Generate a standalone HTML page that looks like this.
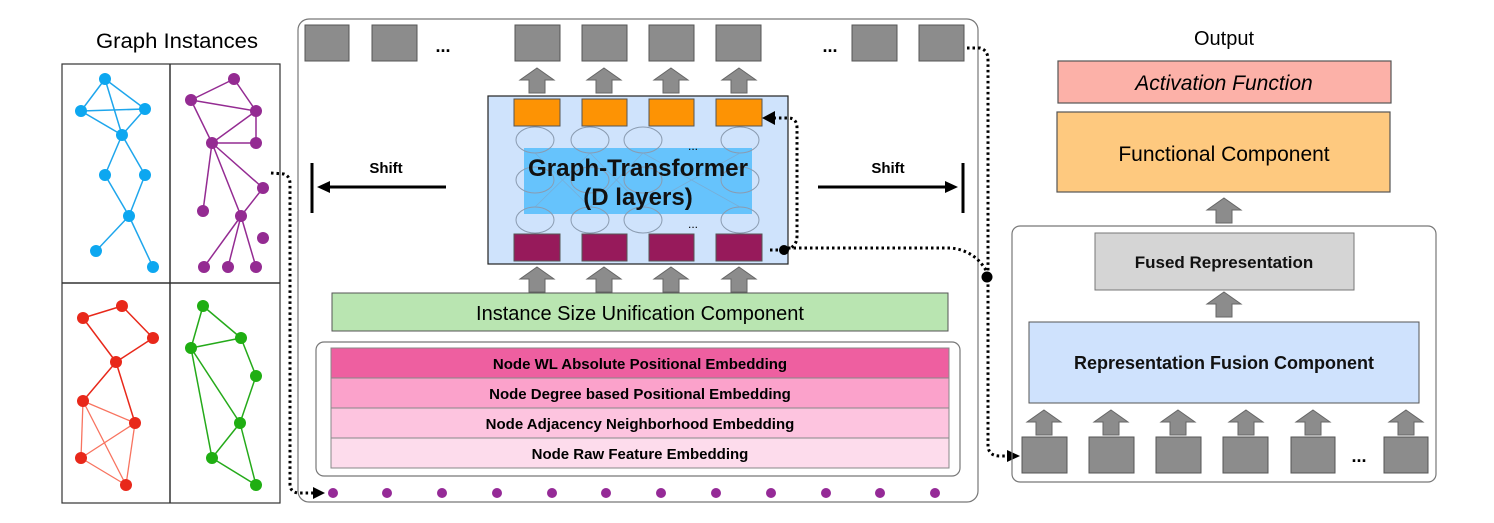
<!DOCTYPE html>
<html><head><meta charset="utf-8"><style>
html,body{margin:0;padding:0;background:#fff;}
svg{display:block;font-family:"Liberation Sans",sans-serif;}
</style></head><body>
<svg width="1494" height="523" viewBox="0 0 1494 523" xmlns="http://www.w3.org/2000/svg">
<defs>
<g id="up"><polygon points="0,0 17,12 8,12 8,25 -8,25 -8,12 -17,12" fill="#8c8c8c" stroke="#666" stroke-width="1"/></g>
</defs>

<!-- Graph instances -->
<text x="177" y="48" font-size="21" text-anchor="middle" textLength="162" lengthAdjust="spacingAndGlyphs">Graph Instances</text>
<rect x="62" y="64" width="218" height="439" fill="#fff" stroke="#333" stroke-width="1.2"/>
<line x1="170" y1="64" x2="170" y2="503" stroke="#333" stroke-width="1.5"/>
<line x1="62" y1="283" x2="280" y2="283" stroke="#333" stroke-width="1.5"/>

<g stroke="#1ea6ec" stroke-width="1.5">
<line x1="105" y1="79" x2="81" y2="111"/><line x1="105" y1="79" x2="145" y2="109"/><line x1="105" y1="79" x2="122" y2="135"/>
<line x1="81" y1="111" x2="145" y2="109"/><line x1="81" y1="111" x2="122" y2="135"/><line x1="145" y1="109" x2="122" y2="135"/>
<line x1="122" y1="135" x2="105" y2="175"/><line x1="122" y1="135" x2="145" y2="175"/><line x1="105" y1="175" x2="129" y2="216"/>
<line x1="145" y1="175" x2="129" y2="216"/><line x1="129" y1="216" x2="96" y2="251"/><line x1="129" y1="216" x2="153" y2="267"/>
</g>
<g fill="#0da7f0">
<circle cx="105" cy="79" r="6"/><circle cx="81" cy="111" r="6"/><circle cx="145" cy="109" r="6"/><circle cx="122" cy="135" r="6"/>
<circle cx="105" cy="175" r="6"/><circle cx="145" cy="175" r="6"/><circle cx="129" cy="216" r="6"/><circle cx="96" cy="251" r="6"/><circle cx="153" cy="267" r="6"/>
</g>

<g stroke="#942b92" stroke-width="1.5">
<line x1="234" y1="79" x2="191" y2="100"/><line x1="234" y1="79" x2="256" y2="111"/><line x1="191" y1="100" x2="256" y2="111"/>
<line x1="191" y1="100" x2="212" y2="143"/><line x1="256" y1="111" x2="212" y2="143"/><line x1="256" y1="111" x2="256" y2="143"/>
<line x1="212" y1="143" x2="256" y2="143"/><line x1="212" y1="143" x2="263" y2="188"/><line x1="212" y1="143" x2="203" y2="211"/>
<line x1="212" y1="143" x2="241" y2="216"/><line x1="263" y1="188" x2="241" y2="216"/><line x1="241" y1="216" x2="204" y2="267"/>
<line x1="241" y1="216" x2="228" y2="267"/><line x1="241" y1="216" x2="256" y2="267"/>
</g>
<g fill="#942b92">
<circle cx="234" cy="79" r="6"/><circle cx="191" cy="100" r="6"/><circle cx="256" cy="111" r="6"/><circle cx="212" cy="143" r="6"/>
<circle cx="256" cy="143" r="6"/><circle cx="263" cy="188" r="6"/><circle cx="203" cy="211" r="6"/><circle cx="241" cy="216" r="6"/>
<circle cx="263" cy="238" r="6"/><circle cx="204" cy="267" r="6"/><circle cx="228" cy="267" r="6"/><circle cx="256" cy="267" r="6"/>
</g>

<g stroke="#e8281a" stroke-width="1.5">
<line x1="122" y1="306" x2="83" y2="318"/><line x1="122" y1="306" x2="153" y2="338"/><line x1="83" y1="318" x2="116" y2="362"/>
<line x1="153" y1="338" x2="116" y2="362"/><line x1="116" y1="362" x2="83" y2="401"/><line x1="116" y1="362" x2="135" y2="423"/>
</g>
<g stroke="#f8735f" stroke-width="1.3">
<line x1="83" y1="401" x2="135" y2="423"/><line x1="83" y1="401" x2="81" y2="458"/><line x1="83" y1="401" x2="126" y2="485"/>
<line x1="135" y1="423" x2="81" y2="458"/><line x1="135" y1="423" x2="126" y2="485"/><line x1="81" y1="458" x2="126" y2="485"/>
</g>
<g fill="#e8281a">
<circle cx="122" cy="306" r="6"/><circle cx="83" cy="318" r="6"/><circle cx="153" cy="338" r="6"/><circle cx="116" cy="362" r="6"/>
<circle cx="83" cy="401" r="6"/><circle cx="135" cy="423" r="6"/><circle cx="81" cy="458" r="6"/><circle cx="126" cy="485" r="6"/>
</g>

<g stroke="#25aa1a" stroke-width="1.5">
<line x1="203" y1="306" x2="241" y2="338"/><line x1="203" y1="306" x2="191" y2="348"/><line x1="191" y1="348" x2="241" y2="338"/>
<line x1="241" y1="338" x2="256" y2="376"/><line x1="191" y1="348" x2="240" y2="423"/><line x1="191" y1="348" x2="212" y2="458"/>
<line x1="256" y1="376" x2="240" y2="423"/><line x1="240" y1="423" x2="212" y2="458"/><line x1="240" y1="423" x2="256" y2="485"/>
<line x1="212" y1="458" x2="256" y2="485"/>
</g>
<g fill="#1fae12">
<circle cx="203" cy="306" r="6"/><circle cx="241" cy="338" r="6"/><circle cx="191" cy="348" r="6"/><circle cx="256" cy="376" r="6"/>
<circle cx="240" cy="423" r="6"/><circle cx="212" cy="458" r="6"/><circle cx="256" cy="485" r="6"/>
</g>

<!-- Main center box -->
<rect x="298" y="19" width="680" height="483" rx="11" fill="none" stroke="#777" stroke-width="1.2"/>

<g fill="#8c8c8c" stroke="#555" stroke-width="1">
<rect x="305" y="25" width="44" height="36"/><rect x="372" y="25" width="45" height="36"/>
<rect x="515" y="25" width="45" height="36"/><rect x="582" y="25" width="45" height="36"/>
<rect x="649" y="25" width="45" height="36"/><rect x="716" y="25" width="45" height="36"/>
<rect x="852" y="25" width="45" height="36"/><rect x="919" y="25" width="45" height="36"/>
</g>
<text x="443" y="52" font-size="18" font-weight="bold" text-anchor="middle">...</text>
<text x="830" y="52" font-size="18" font-weight="bold" text-anchor="middle">...</text>

<use href="#up" x="537" y="68"/><use href="#up" x="604" y="68"/><use href="#up" x="671" y="68"/><use href="#up" x="739" y="68"/>

<!-- Transformer -->
<rect x="488" y="96" width="300" height="168" fill="#cfe3fc" stroke="#222" stroke-width="1.2"/>
<g fill="#fd9304" stroke="#555"><rect x="514" y="99" width="46" height="27"/><rect x="582" y="99" width="45" height="27"/><rect x="649" y="99" width="45" height="27"/><rect x="716" y="99" width="46" height="27"/></g>
<rect x="524" y="148" width="228" height="66" fill="#66c3fc"/>
<g fill="none" stroke="#8a9bb0" stroke-width="1">
<ellipse cx="535" cy="140" rx="19" ry="13"/><ellipse cx="590" cy="140" rx="19" ry="13"/><ellipse cx="643" cy="140" rx="19" ry="13"/><ellipse cx="740" cy="140" rx="19" ry="13"/>
<ellipse cx="535" cy="180" rx="19" ry="13"/><ellipse cx="590" cy="180" rx="19" ry="13"/><ellipse cx="643" cy="180" rx="19" ry="13"/><ellipse cx="740" cy="180" rx="19" ry="13"/>
<ellipse cx="535" cy="220" rx="19" ry="13"/><ellipse cx="590" cy="220" rx="19" ry="13"/><ellipse cx="643" cy="220" rx="19" ry="13"/><ellipse cx="740" cy="220" rx="19" ry="13"/>
</g>
<g stroke="#7fa6c8" stroke-width="0.8" opacity="0.7">
<line x1="535" y1="153" x2="590" y2="207"/><line x1="590" y1="153" x2="535" y2="207"/><line x1="590" y1="153" x2="643" y2="207"/>
<line x1="643" y1="153" x2="590" y2="207"/><line x1="643" y1="153" x2="740" y2="207"/><line x1="740" y1="153" x2="643" y2="207"/>
</g>
<text x="693" y="150" font-size="12" text-anchor="middle">...</text>
<text x="693" y="228" font-size="12" text-anchor="middle">...</text>
<text x="638" y="176" font-size="24" text-anchor="middle" font-weight="bold" fill="#111" textLength="220" lengthAdjust="spacingAndGlyphs">Graph-Transformer</text>
<text x="638" y="205" font-size="24" text-anchor="middle" font-weight="bold" fill="#111">(D layers)</text>
<g fill="#971a5b" stroke="#555"><rect x="514" y="234" width="46" height="27"/><rect x="582" y="234" width="45" height="27"/><rect x="649" y="234" width="45" height="27"/><rect x="716" y="234" width="46" height="27"/></g>

<use href="#up" x="537" y="267"/><use href="#up" x="604" y="267"/><use href="#up" x="671" y="267"/><use href="#up" x="739" y="267"/>

<!-- Shift -->
<line x1="312" y1="163" x2="312" y2="213" stroke="#000" stroke-width="3"/>
<line x1="446" y1="187" x2="326" y2="187" stroke="#000" stroke-width="3"/>
<polygon points="317,187 330,181 330,193" fill="#000"/>
<text x="386" y="173" font-size="15" font-weight="bold" text-anchor="middle">Shift</text>
<line x1="963" y1="163" x2="963" y2="213" stroke="#000" stroke-width="3"/>
<line x1="818" y1="187" x2="945" y2="187" stroke="#000" stroke-width="3"/>
<polygon points="958,187 945,181 945,193" fill="#000"/>
<text x="888" y="173" font-size="15" font-weight="bold" text-anchor="middle">Shift</text>

<!-- Green -->
<rect x="332" y="293" width="616" height="38" fill="#b9e5b1" stroke="#555"/>
<text x="640" y="320" font-size="20" text-anchor="middle">Instance Size Unification Component</text>

<!-- Embeddings -->
<rect x="316" y="342" width="644" height="134" rx="8" fill="none" stroke="#777" stroke-width="1.2"/>
<rect x="331" y="348" width="618" height="30" fill="#ee5fa0" stroke="#888"/>
<rect x="331" y="378" width="618" height="30" fill="#fba2cb" stroke="#888"/>
<rect x="331" y="408" width="618" height="30" fill="#fdc4df" stroke="#888"/>
<rect x="331" y="438" width="618" height="30" fill="#fddcec" stroke="#888"/>
<g font-size="15" font-weight="bold" text-anchor="middle">
<text x="640" y="369">Node WL Absolute Positional Embedding</text>
<text x="640" y="399">Node Degree based Positional Embedding</text>
<text x="640" y="429">Node Adjacency Neighborhood Embedding</text>
<text x="640" y="459">Node Raw Feature Embedding</text>
</g>
<g fill="#952a97">
<circle cx="333" cy="493" r="5"/><circle cx="387" cy="493" r="5"/><circle cx="442" cy="493" r="5"/><circle cx="497" cy="493" r="5"/>
<circle cx="552" cy="493" r="5"/><circle cx="606" cy="493" r="5"/><circle cx="661" cy="493" r="5"/><circle cx="716" cy="493" r="5"/>
<circle cx="771" cy="493" r="5"/><circle cx="826" cy="493" r="5"/><circle cx="880" cy="493" r="5"/><circle cx="935" cy="493" r="5"/>
</g>

<!-- Dotted connectors -->
<g fill="none" stroke="#000" stroke-width="3" stroke-dasharray="2.5,3">
<path d="M271,173 L284,174 Q290,176 290,184 L290,484 Q290,493 300,493 L318,493"/>
<path d="M770,250 L784,250 Q797,248 797,236 L797,128 Q797,118 788,118 L775,118"/>
<path d="M788,248 L950,248 Q975,250 987,272"/>
<path d="M967,48 L980,48 Q988,50 988,60 L988,445 Q988,456 1000,456 L1008,456"/>
</g>
<polygon points="762,118 775,111 775,125" fill="#000"/>
<polygon points="325,493 313,487 313,499" fill="#000"/>
<polygon points="1020,456 1007,450 1007,462" fill="#000"/>
<circle cx="784" cy="250" r="5" fill="#000"/>
<circle cx="987" cy="277" r="5.5" fill="#000"/>

<!-- Right side -->
<text x="1224" y="45" font-size="20" text-anchor="middle">Output</text>
<rect x="1058" y="61" width="333" height="42" fill="#fcb1a8" stroke="#555" stroke-width="1.2"/>
<text x="1224" y="90" font-size="21" font-style="italic" text-anchor="middle">Activation Function</text>
<rect x="1057" y="112" width="333" height="80" fill="#fec97f" stroke="#555" stroke-width="1.2"/>
<text x="1224" y="161" font-size="21" text-anchor="middle">Functional Component</text>
<use href="#up" x="1224" y="198"/>
<rect x="1012" y="226" width="424" height="256" rx="8" fill="none" stroke="#777" stroke-width="1.2"/>
<rect x="1095" y="233" width="259" height="57" fill="#d5d5d5" stroke="#777"/>
<text x="1224" y="268" font-size="17" font-weight="bold" text-anchor="middle" fill="#111">Fused Representation</text>
<use href="#up" x="1224" y="292"/>
<rect x="1029" y="322" width="390" height="81" fill="#cfe2fd" stroke="#555"/>
<text x="1224" y="369" font-size="18" font-weight="bold" text-anchor="middle" fill="#111">Representation Fusion Component</text>
<use href="#up" x="1044" y="410"/><use href="#up" x="1111" y="410"/><use href="#up" x="1178" y="410"/><use href="#up" x="1246" y="410"/><use href="#up" x="1313" y="410"/><use href="#up" x="1406" y="410"/>
<g fill="#8c8c8c" stroke="#555">
<rect x="1022" y="437" width="45" height="36"/><rect x="1089" y="437" width="45" height="36"/><rect x="1156" y="437" width="45" height="36"/>
<rect x="1223" y="437" width="45" height="36"/><rect x="1291" y="437" width="44" height="36"/><rect x="1384" y="437" width="44" height="36"/>
</g>
<text x="1359" y="462" font-size="18" font-weight="bold" text-anchor="middle">...</text>
</svg>
</body></html>
